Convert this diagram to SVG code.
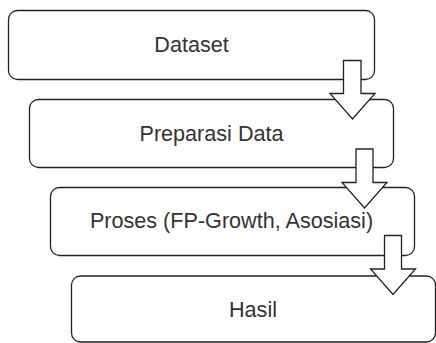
<svg xmlns="http://www.w3.org/2000/svg" width="436" height="343" viewBox="0 0 436 343">
<style>
.box{fill:#fff;stroke:#222;stroke-width:1.3}
.arr{fill:#fff;stroke:#222;stroke-width:1.3;stroke-linejoin:miter}
.lbl{font-family:"Liberation Sans",Arial,sans-serif;font-size:21.6px;fill:#333;text-anchor:middle}
</style>
<rect width="436" height="343" fill="#fff"/>
<g id="node-dataset">
<rect class="box" x="8.5" y="10.5" width="366" height="69" rx="9"/>
<text class="lbl" x="191.5" y="52">Dataset</text>
</g>
<g id="node-preparasi">
<rect class="box" x="29.5" y="99.5" width="364" height="68" rx="9"/>
<text class="lbl" x="211.5" y="140.5">Preparasi Data</text>
</g>
<g id="node-proses">
<rect class="box" x="50.5" y="187.5" width="364" height="68" rx="9"/>
<text class="lbl" x="231.5" y="228">Proses (FP-Growth, Asosiasi)</text>
</g>
<g id="node-hasil">
<rect class="box" x="71.5" y="276" width="364" height="66" rx="9"/>
<text class="lbl" x="253" y="317">Hasil</text>
</g>
<g id="connectors">
<polygon class="arr" points="343.5,60.5 361,60.5 361,93.5 375,93.5 352.5,119 330,93.5 343.5,93.5"/>
<polygon class="arr" points="356,149 373,149 373,182.5 387,182.5 364.5,208 342,182.5 356,182.5"/>
<polygon class="arr" points="384.5,235.5 401.5,235.5 401.5,269 415.5,269 393,294.5 370.5,269 384.5,269"/>
</g>
</svg>
